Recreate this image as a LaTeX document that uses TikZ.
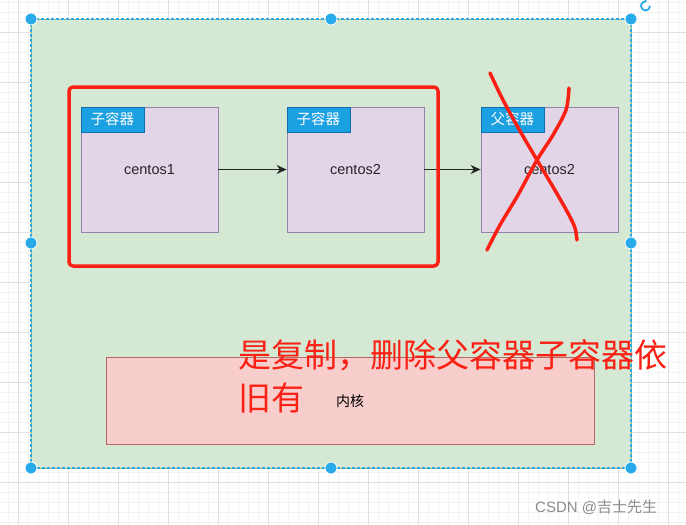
\documentclass[tikz,border=0pt]{standalone}
\usepackage{fontspec}
\setmainfont{Liberation Sans}
\newfontfamily\cjk{Noto Sans CJK SC}
\usetikzlibrary{arrows.meta, positioning}
\usepackage{xcolor}
\definecolor{gridminor}{RGB}{243,243,243}
\definecolor{gridmajor}{RGB}{224,224,224}
\definecolor{hostgreen}{RGB}{213,232,212}
\definecolor{hostborder}{RGB}{160,180,110}
\definecolor{handleblue}{RGB}{41,170,235}
\definecolor{boxpurple}{RGB}{225,213,231}
\definecolor{boxborder}{RGB}{150,130,170}
\definecolor{tabblue}{RGB}{27,161,226}
\definecolor{tabborder}{RGB}{16,110,175}
\definecolor{kernelpink}{RGB}{248,206,204}
\definecolor{kernelborder}{RGB}{184,104,100}
\definecolor{markred}{RGB}{250,32,20}
\tikzset{
    container/.style={
        rectangle,
        draw=boxborder,
        fill=boxpurple,
        line width=0.8pt,
        minimum width=137pt,
        minimum height=125pt,
        inner sep=0pt,
        font=\fontsize{14.5}{17}\selectfont,
        text=black!85
    },
    tab/.style={
        rectangle,
        draw=tabborder,
        fill=tabblue,
        line width=0.6pt,
        minimum width=63pt,
        minimum height=25pt,
        inner sep=0pt,
        anchor=north west,
        font=\cjk\fontsize{14.5}{17}\selectfont,
        text=white
    },
    handle/.style={
        circle,
        fill=handleblue,
        draw=white,
        line width=0.8pt,
        minimum size=12pt,
        inner sep=0pt
    },
    flow/.style={
        -{Stealth[length=10pt,width=9pt]},
        line width=1.5pt,
        draw=black!85
    },
    red mark/.style={
        draw=markred,
        line width=3.5pt,
        line cap=round,
        line join=round
    }
}

\begin{document}
\begin{tikzpicture}[x=1pt, y=-1pt]
\useasboundingbox (0,0) rectangle (686,525);

% === GRID ===
\fill[white] (0,0) rectangle (686,525);
\foreach \gx in {8,18,...,686} \draw[gridminor, line width=0.6pt] (\gx,0) -- (\gx,525);
\foreach \gy in {2,12,...,525} \draw[gridminor, line width=0.6pt] (0,\gy) -- (686,\gy);
\foreach \gx in {18,68,...,686} \draw[gridmajor, line width=0.8pt] (\gx,0) -- (\gx,525);
\foreach \gy in {32,82,...,525} \draw[gridmajor, line width=0.8pt] (0,\gy) -- (686,\gy);

% === HOST ===
\draw[fill=hostgreen, draw=hostborder, line width=1pt] (31,19) rectangle (631,468);
\draw[handleblue, line width=1.2pt, dash pattern=on 3pt off 2pt] (31,19) rectangle (631,468);

% Selection handles
\foreach \hx/\hy in {31/19, 331/19, 631/19, 31/243, 631/243, 31/468, 331/468, 631/468}
    \node[handle] at (\hx,\hy) {};

% Rotate icon
\draw[handleblue, line width=1.8pt, -{Stealth[length=3.5pt,width=4.5pt]}] (650,6) arc[start angle=0, end angle=290, radius=4.5];

% === KERNEL ===
\node[rectangle, draw=kernelborder, fill=kernelpink, line width=1pt, minimum width=488pt,
      minimum height=87pt, anchor=north west, inner sep=0pt] (kernel) at (106,357) {};
\node[font=\cjk\fontsize{14}{16}\selectfont, text=black] (kernel_label) at (350,401) {内核};

% === CONTAINERS ===
\node[container] (centos1) at (149.5,169.5) {centos1};
\node[container] (centos2) at (355.5,169.5) {centos2};
\node[container] (parent) at (549.5,169.5) {centos2};

\node[tab] (tab1) at (centos1.north west) {子容器};
\node[tab] (tab2) at (centos2.north west) {子容器};
\node[tab] (tab3) at (parent.north west) {父容器};

% Copy direction
\draw[flow] (centos1) -- (centos2);
\draw[flow] (centos2) -- (parent);

% === ANNOTATIONS ===

% Child group frame
\draw[red mark, line width=3.5pt, rounded corners=4pt] (69,87) rectangle (438,266);

% Cross over the parent
\draw[red mark] plot[smooth, tension=0.5] coordinates {(490,73) (503,100) (520,131) (537,160) (556,192) (569,215) (575,228) (577,240)};
\draw[red mark] plot[smooth, tension=0.5] coordinates {(569,88) (566,110) (553,135) (537,160) (518,195) (500,225) (487,250)};

% Note
\node[font=\cjk\fontsize{33}{43}\selectfont, text=markred, align=left, anchor=north west,
      inner sep=0pt] (note) at (238,339) {是复制，删除父容器子容器依\\旧有};

% Watermark
\node[font=\fontsize{15}{17}\selectfont, text=black!45, anchor=west, inner sep=0pt]
     (mark) at (535,507) {CSDN @{\cjk 吉士先生}};

\end{tikzpicture}
\end{document}
